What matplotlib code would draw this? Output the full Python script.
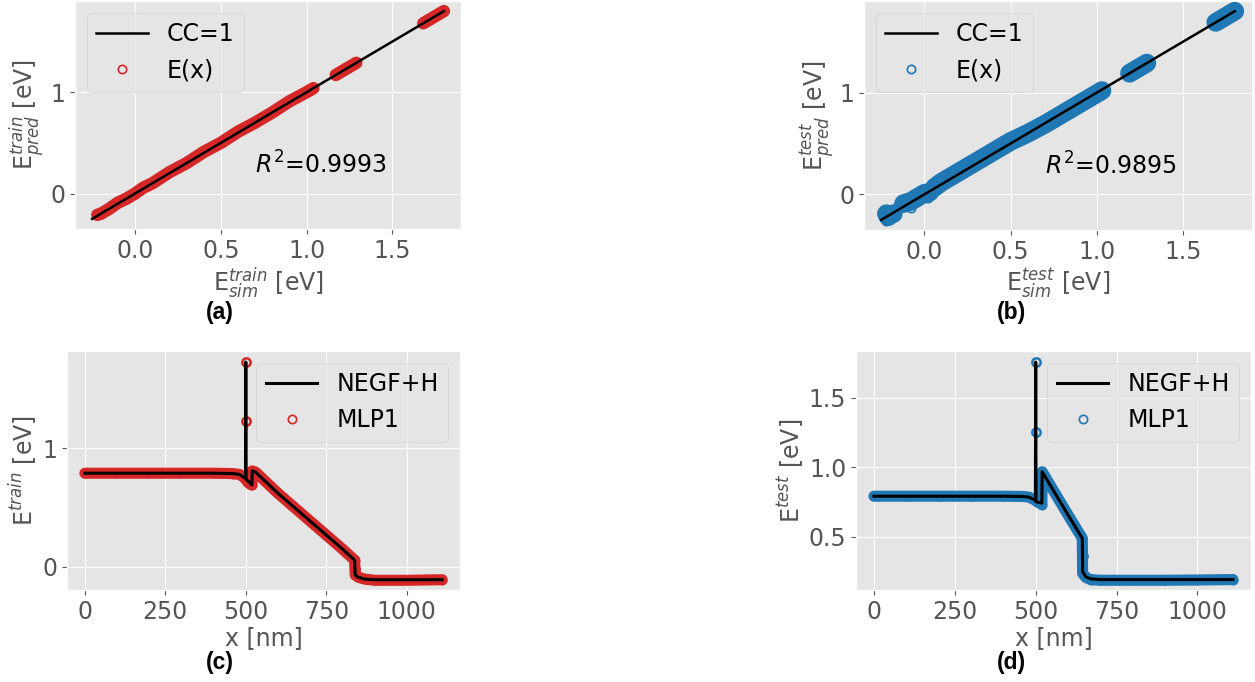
import numpy as np
import matplotlib
matplotlib.use('Agg')
import matplotlib.pyplot as plt

plt.style.use('ggplot')
plt.rcParams['font.family'] = ['DejaVu Sans']
plt.rcParams['font.size'] = 17
plt.rcParams['axes.labelsize'] = 17

nan = np.nan
red = '#d62728'
blue = '#1f77b4'

# (a) train parity: simulated vs predicted energy [eV]
cc_line = [-0.25, 1.80]
sim_train = [-0.22, -0.20, -0.15, -0.10, -0.05, 0.00, 0.05, 0.10, 0.20, 0.30, 0.40, 0.50,
             0.60, 0.70, 0.80, 0.90, 1.00, 1.04, nan, 1.17, 1.20, 1.25, 1.29, nan,
             1.68, 1.72, 1.76, 1.80]
pred_train = [-0.21, -0.20, -0.15, -0.09, -0.05, 0.00, 0.06, 0.10, 0.21, 0.30, 0.41, 0.50,
              0.61, 0.70, 0.80, 0.91, 1.00, 1.04, nan, 1.17, 1.20, 1.25, 1.29, nan,
              1.68, 1.72, 1.76, 1.80]
r2_train = 0.9993

# (b) test parity
sim_test = [-0.22, -0.21, -0.20, -0.18, nan, -0.12, -0.08, -0.04, 0.00, 0.03, nan,
            0.06, 0.10, 0.15, 0.20, 0.25, 0.30, 0.35, 0.40, 0.45, 0.50, 0.55, 0.60, 0.65,
            0.70, 0.75, 0.80, 0.85, 0.90, 0.95, 1.00, 1.03, nan, 1.19, 1.22, 1.26, 1.29, nan,
            1.69, 1.73, 1.77, 1.80]
pred_test = [-0.19, -0.22, -0.20, -0.19, nan, -0.09, -0.07, -0.03, 0.01, 0.02, nan,
             0.07, 0.12, 0.17, 0.22, 0.27, 0.32, 0.37, 0.42, 0.47, 0.52, 0.56, 0.60, 0.645,
             0.69, 0.74, 0.79, 0.84, 0.89, 0.94, 0.99, 1.02, nan, 1.19, 1.22, 1.26, 1.29, nan,
             1.69, 1.73, 1.77, 1.80]
out_sim_test = [-0.22, -0.22, -0.15, -0.08, 0.02, 0.60, 0.85]
out_pred_test = [-0.15, -0.26, -0.10, -0.13, -0.04, 0.65, 0.80]
r2_test = 0.9895

# (c) train profile along x [nm]
x_negf_c = [0, 100, 200, 300, 400, 460, 480, 499, 500, 501, 519, 520, 530, 600, 700, 800,
            838, 840, 850, 870, 900, 1000, 1110]
e_negf_c = [0.79, 0.79, 0.79, 0.79, 0.79, 0.787, 0.78, 0.746, 1.73, 0.74, 0.69, 0.81, 0.80,
            0.62, 0.385, 0.15, 0.055, -0.07, -0.09, -0.105, -0.11, -0.11, -0.11]
x_mlp_c = [0, 100, 200, 300, 400, 460, 480, 499, 505, 512, 519, 520, 530, 600, 700, 800,
           838, 840, 850, 870, 900, 1000, 1110]
e_mlp_c = [0.79, 0.79, 0.79, 0.79, 0.79, 0.787, 0.78, 0.745, 0.72, 0.70, 0.69, 0.81, 0.80,
           0.62, 0.385, 0.15, 0.055, -0.07, -0.09, -0.105, -0.115, -0.115, -0.11]
x_mlp_c_out = [500, 500, 840]
e_mlp_c_out = [1.73, 1.23, -0.02]

# (d) test profile along x [nm]
x_negf_d = [0, 100, 200, 300, 400, 460, 480, 499, 500, 501, 519, 520, 560, 600, 644, 645,
            655, 670, 700, 800, 900, 1000, 1110]
e_negf_d = [0.79, 0.79, 0.79, 0.79, 0.79, 0.788, 0.783, 0.76, 1.755, 0.75, 0.74, 0.966, 0.81,
            0.655, 0.487, 0.247, 0.21, 0.195, 0.19, 0.19, 0.19, 0.19, 0.19]
x_mlp_d = [0, 100, 200, 300, 400, 460, 480, 499, 505, 512, 519, 520, 560, 600, 644, 645,
           655, 670, 700, 800, 900, 1000, 1110]
e_mlp_d = [0.79, 0.79, 0.79, 0.79, 0.79, 0.788, 0.783, 0.76, 0.75, 0.74, 0.73, 0.966, 0.81,
           0.655, 0.487, 0.235, 0.205, 0.19, 0.185, 0.185, 0.185, 0.187, 0.19]
x_mlp_d_out = [500, 500, 520, 646]
e_mlp_d_out = [1.755, 1.254, 0.858, 0.36]

W, H = 1255, 682
fig = plt.figure(figsize=(W / 100, H / 100), dpi=100)

def box(l, t, r, b):
    return [l / W, 1 - b / H, (r - l) / W, (b - t) / H]

ax_a = fig.add_axes(box(75, 1, 461, 229))
ax_b = fig.add_axes(box(864, 1, 1252, 230))
ax_c = fig.add_axes(box(67, 351, 460, 590))
ax_d = fig.add_axes(box(856, 351, 1251, 590))

mk = dict(linestyle='none', marker='o', markersize=6, markerfacecolor='none',
          markeredgewidth=1.2)
leg = dict(fontsize=17, handlelength=2.2)

# parity plots
for ax, sim, pred, col, r2, tag, blw in [(ax_a, sim_train, pred_train, red, r2_train, 'train', 9),
                                         (ax_b, sim_test, pred_test, blue, r2_test, 'test', 13.5)]:
    ax.plot(cc_line, cc_line, color='black', lw=1.8, label='CC=1', zorder=5)
    ax.plot(sim, pred, color=col, lw=blw, solid_capstyle='round', zorder=3)
    ax.plot(sim, pred, color=col, label='E(x)', zorder=4, **mk)
    if tag == 'test':
        ax.plot(out_sim_test, out_pred_test, color=col, zorder=4, **mk)
    ax.text(0.70, 0.28, '$R^2$=%.4f' % r2, color='black', va='center', fontsize=17)
    ax.set_xlim(-0.35, 1.9)
    ax.set_ylim(-0.35, 1.9)
    ax.set_xticks([0.0, 0.5, 1.0, 1.5])
    ax.set_xticklabels(['0.0', '0.5', '1.0', '1.5'])
    ax.set_yticks([0, 1])
    ax.set_xlabel('E$_{sim}^{%s}$ [eV]' % tag, labelpad=2)
    ax.set_ylabel('E$_{pred}^{%s}$ [eV]' % tag, labelpad=2)
    ax.legend(loc='upper left', **leg)

# profile plots
for ax, xn, en, xm, em, xo, eo, col, tag in [
        (ax_c, x_negf_c, e_negf_c, x_mlp_c, e_mlp_c, x_mlp_c_out, e_mlp_c_out, red, 'train'),
        (ax_d, x_negf_d, e_negf_d, x_mlp_d, e_mlp_d, x_mlp_d_out, e_mlp_d_out, blue, 'test')]:
    ax.plot(xn, en, color='black', lw=2.2, label='NEGF+H', zorder=5)
    ax.plot(xm, em, color=col, lw=8, solid_capstyle='round', zorder=3)
    ax.plot(xm, em, color=col, label='MLP1', zorder=4, **mk)
    ax.plot(xo, eo, color=col, zorder=4, **dict(mk, markeredgewidth=1.8))
    ax.set_xlim(-55.5, 1165.5)
    ax.set_xticks([0, 250, 500, 750, 1000])
    ax.set_xlabel('x [nm]', labelpad=2)
    ax.set_ylabel('E$^{%s}$ [eV]' % tag, labelpad=2)
    ax.legend(loc='upper right', **leg)

ax_c.set_ylim(-0.197, 1.823)
ax_c.set_yticks([0, 1])
ax_d.set_ylim(0.115, 1.835)
ax_d.set_yticks([0.5, 1.0, 1.5])
ax_d.set_yticklabels(['0.5', '1.0', '1.5'])

for lab, x, y in [('(a)', 220, 313), ('(b)', 1011, 313), ('(c)', 220, 663), ('(d)', 1011, 663)]:
    fig.text(x / W, 1 - y / H, lab, ha='center', va='center', fontsize=16.5,
             fontweight='bold', family=['Liberation Sans', 'DejaVu Sans'], color='black')

fig.savefig('out.png', dpi=100)
